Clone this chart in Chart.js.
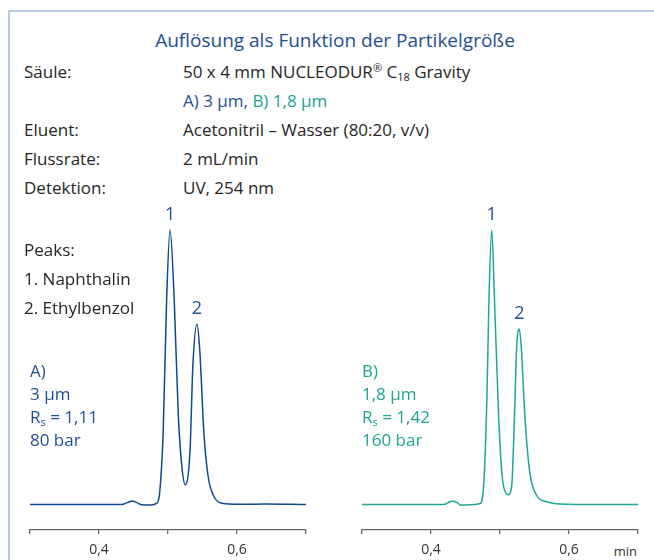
<!DOCTYPE html>
<html>
<head>
<meta charset="utf-8">
<script src="https://cdn.jsdelivr.net/npm/chart.js@4.4.1/dist/chart.umd.min.js"></script>
<style>
  html, body { margin: 0; padding: 0; width: 654px; height: 560px; overflow: hidden; background: #fff; }
  body { position: relative; font-family: "Open Sans", "Liberation Sans", Arial, sans-serif; font-weight: 400; color: #262626; }
  .frame { position: absolute; left: 8px; top: 10px; right: 0; bottom: 0; border-left: 2px solid #b7c8e0; border-top: 2px solid #b7c8e0; }
  .t { position: absolute; font-size: 17px; line-height: 20px; white-space: nowrap; z-index: 2; }
  .title { position: absolute; left: 35px; width: 600px; top: 30px; text-align: center; font-size: 19px; line-height: 20px; color: #1f4e93; }
  .a { color: #1f4e93; }
  .b { color: #20a496; }
  sup, sub { font-size: 11px; line-height: 0; position: relative; vertical-align: baseline; }
  sup { top: -6px; }
  sub { top: 3px; }
  canvas { position: absolute; z-index: 1; }
  .unit { position: absolute; left: 600px; width: 37px; text-align: right; top: 543px; font-size: 13px; line-height: 16px; color: #333; }
</style>
</head>
<body>
<div class="frame"></div>
<div class="title">Auflösung als Funktion der Partikelgröße</div>

<div class="t" style="left:24px;top:62px">Säule:</div>
<div class="t" style="left:183px;top:62px">50 x 4 mm NUCLEODUR<sup>®</sup> C<sub>18</sub> Gravity</div>
<div class="t" style="left:183px;top:91px"><span class="a">A) 3 µm,</span> <span class="b">B) 1,8 µm</span></div>
<div class="t" style="left:24px;top:120px">Eluent:</div>
<div class="t" style="left:183px;top:120px">Acetonitril – Wasser (80:20, v/v)</div>
<div class="t" style="left:24px;top:149px">Flussrate:</div>
<div class="t" style="left:183px;top:149px">2 mL/min</div>
<div class="t" style="left:24px;top:178px">Detektion:</div>
<div class="t" style="left:183px;top:178px">UV, 254 nm</div>

<div class="t" style="left:24px;top:240px">Peaks:</div>
<div class="t" style="left:24px;top:269px">1. Naphthalin</div>
<div class="t" style="left:24px;top:298px">2. Ethylbenzol</div>

<div class="t a" style="left:30px;top:361px">A)</div>
<div class="t a" style="left:30px;top:384px">3 µm</div>
<div class="t a" style="left:30px;top:407px">R<sub>s</sub> = 1,11</div>
<div class="t a" style="left:30px;top:430px">80 bar</div>

<div class="t b" style="left:362px;top:361px">B)</div>
<div class="t b" style="left:362px;top:384px">1,8 µm</div>
<div class="t b" style="left:362px;top:407px">R<sub>s</sub> = 1,42</div>
<div class="t b" style="left:362px;top:430px">160 bar</div>

<canvas id="chartA" width="296" height="366" style="left:20px;top:200px"></canvas>
<canvas id="chartB" width="296" height="366" style="left:352px;top:200px"></canvas>
<div class="unit">min</div>

<script>
// Chromatogramm A (3 µm) - Zeit in min, Signal relativ (Peak 1 = 100)
const timesA = [0.300, 0.401, 0.433, 0.441, 0.448, 0.455, 0.462, 0.474, 0.484, 0.488,
                0.493, 0.498, 0.503, 0.509, 0.515, 0.520, 0.525, 0.532, 0.536, 0.542,
                0.546, 0.552, 0.558, 0.566, 0.578, 0.604, 0.641, 0.700];
const signalA = [0, 0, 0, 0.7, 1.3, 0.7, -0.1, -0.2, 0.5, 4.5,
                 26.3, 74.6, 100, 74.6, 32.2, 14.1, 7.2, 20.1, 50.4, 65.8,
                 56.4, 26.3, 10.5, 3.2, 0.5, 0.1, 0.2, 0];

// Chromatogramm B (1,8 µm)
const timesB = [0.300, 0.399, 0.419, 0.425, 0.431, 0.438, 0.443, 0.457, 0.471, 0.476,
                0.481, 0.484, 0.488, 0.492, 0.498, 0.503, 0.509, 0.512, 0.517, 0.521,
                0.524, 0.528, 0.531, 0.536, 0.543, 0.553, 0.568, 0.587, 0.645, 0.700];
const signalB = [0, 0, 0, 0.7, 1.3, 0.7, -0.2, -0.1, 0.4, 5.8,
                 38.5, 74.8, 100, 74.8, 32.4, 10.6, 4.0, 3.6, 7.0, 32.4,
                 56.6, 63.9, 56.6, 32.4, 12.0, 3.4, 1.0, 0.2, 0, 0];

// Achse
const tickValues = [0.3, 0.4, 0.5, 0.6, 0.7];
const tickLabels = ['', '0,4', '', '0,6', ''];

// Peakbeschriftung
const peakNames = ['1', '2'];
const peakTimesA = [0.503, 0.542];
const peakHeightsA = [100, 65.8];
const peakTimesB = [0.488, 0.528];
const peakHeightsB = [100, 63.9];

const FONT = '"Open Sans", "Liberation Sans", Arial, sans-serif';

const peakLabels = {
    id: 'peakLabels',
    afterDatasetsDraw(chart, args, opts) {
        const ctx = chart.ctx;
        const x = chart.scales.x, y = chart.scales.y;
        ctx.save();
        ctx.fillStyle = '#1f4e93';
        ctx.font = '18px ' + FONT;
        ctx.textAlign = 'center';
        ctx.textBaseline = 'middle';
        opts.times.forEach(function(t, i) {
            ctx.fillText(peakNames[i], x.getPixelForValue(t), y.getPixelForValue(opts.heights[i]) - 15);
        });
        ctx.restore();
    }
};

function makeChart(id, times, signal, color, peakTimes, peakHeights) {
    const points = times.map(function(t, i) { return {x: t, y: signal[i]}; });
    return new Chart(document.getElementById(id), {
        type: 'line',
        data: {
            datasets: [{
                data: points,
                borderColor: color,
                borderWidth: 1.5,
                pointRadius: 0,
                fill: false,
                cubicInterpolationMode: 'monotone'
            }]
        },
        options: {
            responsive: false,
            animation: false,
            layout: { padding: { left: 10, right: 10, top: 20, bottom: 0 } },
            plugins: {
                legend: { display: false },
                tooltip: { enabled: false },
                peakLabels: { times: peakTimes, heights: peakHeights }
            },
            scales: {
                x: {
                    type: 'linear',
                    min: 0.3,
                    max: 0.7,
                    afterBuildTicks: function(scale) {
                        scale.ticks = tickValues.map(function(v) { return {value: v}; });
                    },
                    ticks: {
                        autoSkip: false,
                        maxRotation: 0,
                        padding: 9,
                        color: '#333',
                        font: { family: FONT, size: 14, lineHeight: 1 },
                        callback: function(value, index) { return tickLabels[index]; }
                    },
                    grid: { drawOnChartArea: false, tickLength: 4, color: '#666', lineWidth: 1.3 },
                    border: { color: '#666', width: 1.3 }
                },
                y: { display: false, min: -9.26, max: 103.63 }
            }
        },
        plugins: [peakLabels]
    });
}

makeChart('chartA', timesA, signalA, '#0f4a8f', peakTimesA, peakHeightsA);
makeChart('chartB', timesB, signalB, '#1fa696', peakTimesB, peakHeightsB);
</script>
</body>
</html>
